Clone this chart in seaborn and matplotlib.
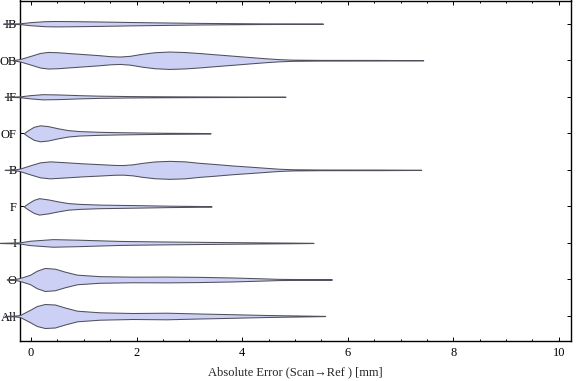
import numpy as np
import pandas as pd
import seaborn as sns
import matplotlib.pyplot as plt
from matplotlib.ticker import MultipleLocator

# categories, top to bottom
cats = ['IB', 'OB', 'IF', 'OF', 'B', 'F', 'I', 'O', 'All']

# violin profiles: error [mm] and relative density (half width)
ib_x = [-0.53, -0.21, -0.02, 0.26, 0.45, 0.73, 1.30, 1.87, 2.43, 3.19, 3.81, 4.33, 4.89, 5.53]
ib_d = [0.1, 0.4, 1.5, 2.5, 2.7, 2.6, 2.2, 1.7, 1.3, 0.8, 0.55, 0.35, 0.25, 0.1]

ob_x = [-0.36, -0.21, -0.02, 0.17, 0.32, 0.50, 0.68, 0.98, 1.30, 1.49, 1.68, 1.87, 2.11, 2.34,
        2.62, 2.91, 3.19, 3.47, 3.81, 4.14, 4.46, 4.70, 4.95, 5.46, 6.59, 7.43]
ob_d = [0.0, 1.2, 4.2, 7.3, 8.3, 8.0, 7.3, 6.2, 5.0, 4.1, 3.7, 4.4, 6.5, 8.0,
        8.7, 8.2, 7.2, 6.0, 4.6, 3.2, 1.9, 1.1, 0.6, 0.35, 0.3, 0.1]

if_x = [-0.50, -0.21, -0.02, 0.22, 0.54, 0.92, 1.30, 1.87, 2.43, 3.19, 3.95, 4.82]
if_d = [0.1, 0.4, 1.6, 2.6, 2.3, 1.6, 1.1, 0.7, 0.5, 0.35, 0.25, 0.1]

of_x = [-0.14, -0.06, 0.05, 0.17, 0.32, 0.51, 0.70, 0.92, 1.30, 1.58, 2.09, 2.62, 3.19, 3.40]
of_d = [0.0, 3.0, 6.5, 8.0, 7.2, 5.0, 3.2, 2.2, 1.5, 1.2, 0.8, 0.5, 0.35, 0.1]

b_x = [-0.50, -0.31, -0.21, -0.02, 0.17, 0.36, 0.68, 0.98, 1.30, 1.58, 1.74, 1.92, 2.11,
       2.34, 2.62, 2.91, 3.19, 3.47, 3.81, 4.14, 4.46, 4.70, 4.95, 5.46, 6.59, 7.39]
b_d = [0.1, 0.4, 1.3, 4.5, 7.5, 8.5, 7.5, 6.5, 5.7, 4.9, 4.8, 5.5, 7.0,
       8.4, 9.0, 8.5, 7.0, 5.9, 4.4, 3.2, 2.0, 1.1, 0.6, 0.35, 0.3, 0.1]

f_x = [-0.14, -0.06, 0.05, 0.15, 0.32, 0.51, 0.70, 0.92, 1.30, 2.06, 2.62, 3.19, 3.42]
f_d = [0.0, 3.0, 6.5, 8.2, 7.0, 5.0, 3.3, 2.5, 1.8, 1.2, 0.7, 0.4, 0.1]

i_x = [-0.59, -0.21, -0.02, 0.41, 0.92, 1.68, 2.43, 3.19, 3.81, 4.46, 4.89, 5.35]
i_d = [0.1, 0.6, 2.2, 3.8, 3.2, 2.0, 1.5, 1.1, 0.8, 0.5, 0.35, 0.1]

o_x = [-0.46, -0.31, -0.21, -0.02, 0.11, 0.26, 0.45, 0.64, 0.87, 1.30, 1.92, 2.57,
       3.19, 3.81, 4.46, 4.70, 5.27, 5.70]
o_d = [0.1, 0.4, 1.5, 4.7, 8.8, 11.5, 10.8, 7.8, 4.8, 3.3, 2.8, 2.9,
       2.6, 2.0, 1.0, 0.6, 0.3, 0.1]

all_x = [-0.50, -0.31, -0.21, -0.02, 0.11, 0.26, 0.45, 0.64, 0.87, 1.30, 1.92, 2.57,
         3.19, 3.81, 4.46, 5.08, 5.57]
all_d = [0.1, 0.4, 1.0, 6.2, 10.0, 12.0, 11.5, 8.5, 5.3, 3.7, 3.0, 3.3,
         2.5, 1.8, 1.0, 0.5, 0.1]

profiles = [(ib_x, ib_d), (ob_x, ob_d), (if_x, if_d), (of_x, of_d), (b_x, b_d),
            (f_x, f_d), (i_x, i_d), (o_x, o_d), (all_x, all_d)]

rows = []
for k, (xs, ds) in enumerate(profiles):
    for x, d in zip(xs, ds):
        rows.append({'cat': cats[k], 'pos': k, 'err': x, 'dens': d})
df = pd.DataFrame(rows)

sns.set_style("ticks")
plt.rcParams['font.family'] = ['Liberation Serif', 'DejaVu Serif']

fig = plt.figure(figsize=(5.76, 3.81), dpi=100)
ax = fig.add_axes([20 / 576, 1 - 341 / 381, 551 / 576, 340.5 / 381])

scale = 1 / 36.54
for cat, g in df.groupby('cat', sort=False):
    k = g['pos'].iloc[0]
    half = g['dens'].to_numpy() * scale
    ax.fill_between(g['err'], k - half, k + half, facecolor='#CCD0F4',
                    edgecolor='#50505c', lw=0.75, clip_on=False, zorder=3)

ax.set_xlim(-0.21, 10.23)
ax.set_ylim(8.684, -0.635)
ax.set_yticks(range(len(cats)), cats)
ax.set_xticks(np.arange(0, 11, 2))
ax.xaxis.set_minor_locator(MultipleLocator(0.5))

ax.tick_params(axis='both', which='both', direction='in', top=True, right=True,
               labelsize=9, colors='black', width=0.7)
ax.tick_params(axis='x', which='major', length=2.8, pad=4.5)
ax.tick_params(axis='x', which='minor', length=1.5)
ax.tick_params(axis='y', length=3, pad=2.5)
for s in ax.spines.values():
    s.set_linewidth(1.0)
    s.set_color('black')

ax.set_xlabel('Absolute Error (Scan\u2192Ref ) [mm]', fontsize=9, labelpad=5)

fig.savefig('out.png', dpi=100)
